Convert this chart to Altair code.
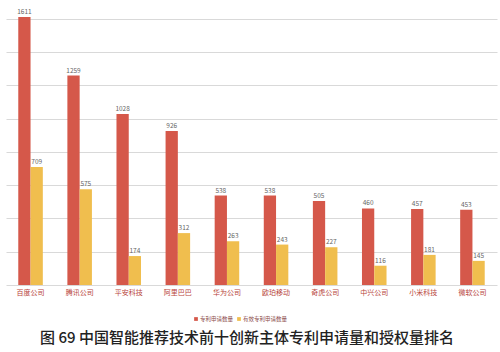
import altair as alt
import pandas as pd

companies = ["百度公司", "腾讯公司", "平安科技", "阿里巴巴", "华为公司",
             "欧珀移动", "奇虎公司", "中兴公司", "小米科技", "微软公司"]
applications = [1611, 1259, 1028, 926, 538, 538, 505, 460, 457, 453]
granted = [709, 575, 174, 312, 263, 243, 227, 116, 181, 145]
series = ["专利申请数量", "有效专利申请数量"]
colors = ["#D5584A", "#F0BE4E"]
title_text = "图\u00a069\u00a0中国智能推荐技术前十创新主体专利申请量和授权量排名"

rows = []
for c, a, g in zip(companies, applications, granted):
    rows.append({"company": c, "series": series[0], "value": a})
    rows.append({"company": c, "series": series[1], "value": g})
df = pd.DataFrame(rows)

FONT = "Noto Sans CJK SC"

x = alt.X("company:N", sort=companies, title=None,
          scale=alt.Scale(paddingInner=0.5, paddingOuter=0.25),
          axis=alt.Axis(labelAngle=0, labelFontSize=7, labelColor="#B8453C",
                        labelFont=FONT, domain=False, ticks=False, labelPadding=3))
y = alt.Y("value:Q", title=None,
          scale=alt.Scale(domain=[0, 1611], nice=False),
          axis=alt.Axis(values=[0, 200, 400, 600, 800, 1000, 1200, 1400, 1600],
                        labels=False, ticks=False, domain=False,
                        gridColor="#D9D9D9", gridWidth=1))
xo = alt.XOffset("series:N", sort=series)

bars = alt.Chart(df).mark_bar().encode(
    x=x, y=y, xOffset=xo,
    color=alt.Color("series:N", sort=series,
                    scale=alt.Scale(domain=series, range=colors),
                    legend=None)
)

labels = alt.Chart(df).mark_text(dy=-5, fontSize=6.5, color="#666666", font=FONT).encode(
    x=x, y=y, xOffset=xo, text="value:Q"
)

# manual legend (positions in pixels relative to the plot area)
legend_layers = []
legend_pos = [(190, 194), (233, 237)]
for name, col, (sx, tx) in zip(series, colors, legend_pos):
    d = pd.DataFrame({"t": [name]})
    legend_layers.append(alt.Chart(d).mark_square(size=14, color=col, opacity=1).encode(
        x=alt.value(sx), y=alt.value(302)))
    legend_layers.append(alt.Chart(d).mark_text(
        fontSize=5.5, font=FONT, color="#8B4A4A", align="left", baseline="middle"
    ).encode(x=alt.value(tx), y=alt.value(302), text="t:N"))

title = alt.Chart(pd.DataFrame({"t": [title_text]})).mark_text(
    fontSize=15, font=FONT, fontWeight=500, color="#222222",
    align="center", baseline="middle"
).encode(x=alt.value(241), y=alt.value(321), text="t:N")

chart = alt.layer(bars, labels, *legend_layers, title).properties(
    width=491, height=268,
    padding={"left": 6, "top": 17, "right": 3, "bottom": 67},
    autosize=alt.AutoSizeParams(type="none"),
).configure(background="white").configure_view(stroke=None)

chart.save("out.html", embed_options={"renderer": "svg", "actions": False})
